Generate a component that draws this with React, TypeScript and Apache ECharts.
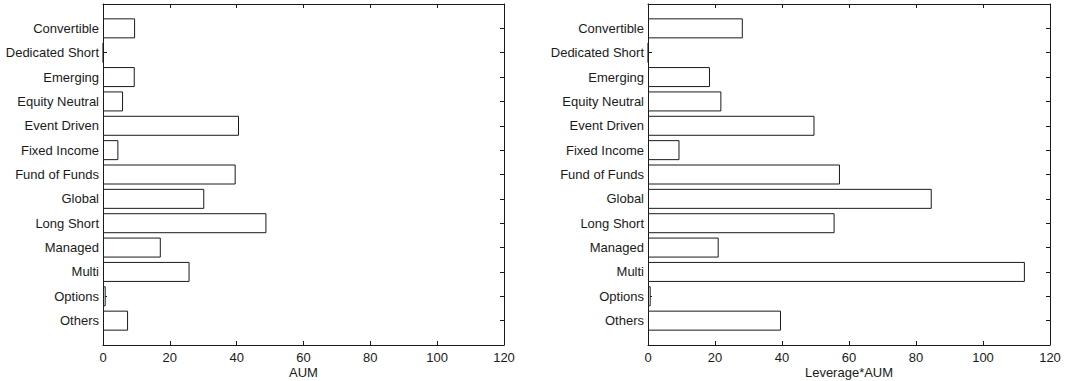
import React, { useEffect, useRef } from "react";
import * as echarts from "echarts";

const categories = [
  "Convertible",
  "Dedicated Short",
  "Emerging",
  "Equity Neutral",
  "Event Driven",
  "Fixed Income",
  "Fund of Funds",
  "Global",
  "Long Short",
  "Managed",
  "Multi",
  "Options",
  "Others",
];

const aum = [9.6, 0.1, 9.5, 6.0, 40.7, 4.6, 39.7, 30.3, 48.9, 17.3, 25.9, 0.8, 7.5];
const leverageAum = [28.3, 0.1, 18.5, 21.9, 49.7, 9.4, 57.3, 84.7, 55.7, 21.1, 112.5, 0.8, 39.7];

const xTicks = { min: 0, max: 120, interval: 20 };
const xNames = ["AUM", "Leverage*AUM"];

const FONT = "'Liberation Sans', Arial, Helvetica, sans-serif";
const INK = "#1a1a1a";

export default function App() {
  const ref = useRef<HTMLDivElement>(null);

  useEffect(() => {
    if (!ref.current) return;
    const chart = echarts.init(ref.current, undefined, { renderer: "svg" });
    const padded = ["", ...categories, ""];
    const tickFilter = (_i: number, v: string) => v !== "";

    const grids = [
      { left: 103, right: 574, top: 4, bottom: 36, containLabel: false, outerBoundsMode: "none" },
      { left: 648, right: 28, top: 4, bottom: 36, containLabel: false, outerBoundsMode: "none" },
    ];

    const xAxis: any[] = [];
    const yAxis: any[] = [];
    const series: any[] = [];
    const datasets = [aum, leverageAum];
    const line = { show: true, onZero: false, lineStyle: { color: INK, width: 1 } };

    grids.forEach((_, gi) => {
      xAxis.push({
        type: "value",
        gridIndex: gi,
        position: "bottom",
        min: xTicks.min,
        max: xTicks.max,
        interval: xTicks.interval,
        splitLine: { show: false },
        axisLine: line,
        axisTick: { show: true, inside: true, length: 4, lineStyle: { color: INK } },
        axisLabel: { color: INK, fontSize: 13, fontFamily: FONT, margin: 6 },
        name: xNames[gi],
        nameLocation: "middle",
        nameGap: 21,
        nameMoveOverlap: false,
        nameTextStyle: { color: INK, fontSize: 13, fontFamily: FONT },
      });
      xAxis.push({
        type: "value",
        gridIndex: gi,
        position: "top",
        min: xTicks.min,
        max: xTicks.max,
        interval: xTicks.interval,
        splitLine: { show: false },
        axisLine: line,
        axisTick: { show: true, inside: true, length: 4, lineStyle: { color: INK } },
        axisLabel: { show: false },
      });
      yAxis.push({
        type: "category",
        gridIndex: gi,
        position: "left",
        data: padded,
        inverse: true,
        boundaryGap: false,
        axisLine: line,
        axisTick: { show: true, inside: true, length: 4, interval: tickFilter, lineStyle: { color: INK } },
        axisLabel: { interval: 0, color: INK, fontSize: 13, fontFamily: FONT, margin: 4 },
        splitLine: { show: false },
      });
      yAxis.push({
        type: "category",
        gridIndex: gi,
        position: "right",
        data: padded,
        inverse: true,
        boundaryGap: false,
        axisLine: line,
        axisTick: { show: true, inside: true, length: 4, interval: tickFilter, lineStyle: { color: INK } },
        axisLabel: { show: false },
        splitLine: { show: false },
      });
      series.push({
        type: "bar",
        xAxisIndex: gi * 2,
        yAxisIndex: gi * 2,
        barWidth: 20,
        data: ["-", ...datasets[gi], "-"],
        itemStyle: { color: "#ffffff", borderColor: INK, borderWidth: 1 },
        silent: true,
      });
    });

    chart.setOption({
      animation: false,
      backgroundColor: "#ffffff",
      textStyle: { fontFamily: FONT },
      grid: grids,
      xAxis,
      yAxis,
      series,
    });
    return () => chart.dispose();
  }, []);

  return (
    <div
      ref={ref}
      style={{ position: "fixed", left: 0, top: 0, width: 1078, height: 381 }}
    />
  );
}
